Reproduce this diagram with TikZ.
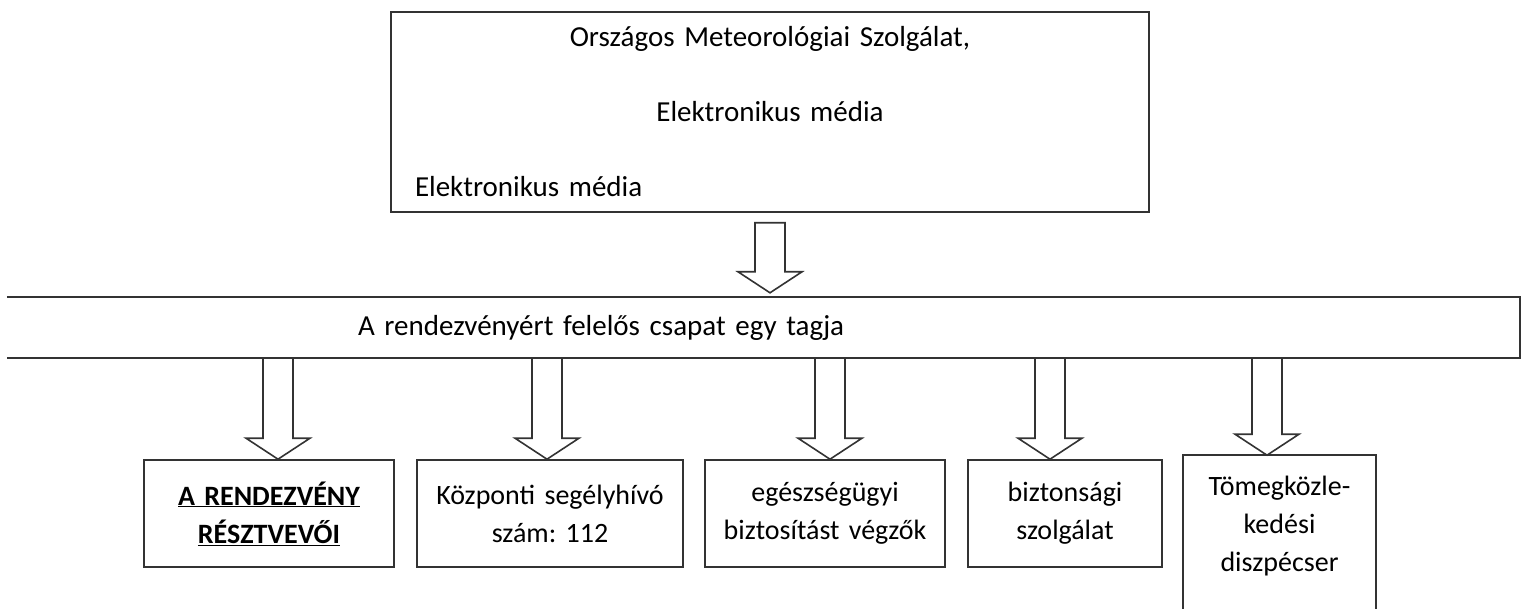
\documentclass[tikz,border=0pt]{standalone}
\usepackage{fontspec}
\setmainfont{Carlito}[WordSpace=0.9]
\frenchspacing
\usetikzlibrary{calc}

\tikzset{
    frame/.style={draw=black!80, line width=1.6pt},
    unit/.style={frame, minimum height=107pt, inner xsep=4pt, align=center, font=\fontsize{28}{38}\selectfont},
    fatarrow/.style={draw=black!80, line width=1.6pt, line join=miter, fill=white},
}

\newcommand{\hollowarrow}[2]{%
    \draw[fatarrow] ($(#1)+(-15,0)$) -- ($(#2)+(-15,-21)$) -- ($(#2)+(-32,-21)$) -- (#2)
        -- ($(#2)+(32,-21)$) -- ($(#2)+(15,-21)$) -- ($(#1)+(15,0)$) -- cycle;
}

\begin{document}
\begin{tikzpicture}[x=1pt, y=-1pt]

    \useasboundingbox (0,0) rectangle (1528,609);
    \coordinate (bottom) at (0,612);

    \node[frame, minimum width=758pt, minimum height=200pt, inner xsep=24pt, text width=710pt,
        align=left, font=\fontsize{29}{35}\selectfont] (media) at (770,112)
        {\makebox[\linewidth]{Országos Meteorológiai Szolgálat,}\\[40pt]
         \makebox[\linewidth]{Elektronikus média}\\[40pt]
         Elektronikus média};

    \node[minimum width=1513pt, minimum height=61pt, inner xsep=351pt, text width=811pt,
        align=left, font=\fontsize{29}{35}\selectfont] (team) at (763.5,327.5)
        {A rendezvényért felelős csapat egy tagja};
    \draw[frame] (team.north west) -- (team.north east) -- (team.south east) -- (team.south west);

    \node[unit, minimum width=250pt, text width=242pt] (b1) at (269,513.5)
        {\textbf{\underline{A RENDEZVÉNY}}\\\textbf{\underline{RÉSZTVEVŐI}}};
    \node[unit, minimum width=266pt, text width=258pt] (b2) at (550,513.5)
        {Központi segélyhívó\\szám: 112};
    \node[unit, minimum width=240pt, text width=232pt] (b3) at (825,513.5)
        {egészségügyi\\biztosítást végzők};
    \node[unit, minimum width=194pt, text width=186pt] (b4) at (1065,513.5)
        {biztonsági\\szolgálat};
    \node[unit, draw=none, minimum width=191pt, minimum height=140pt, text width=183pt] (b5) at (1279.5,526)
        {Tömegközle-\\kedési\\diszpécser};
    \draw[frame] (b5.north west |- bottom) -- (b5.north west) -- (b5.north east) -- (b5.north east |- bottom);

    \coordinate (a0) at ($(media.south)+(0,10)$);
    \coordinate (t0) at ($(a0 |- team.north)+(0,-4)$);
    \hollowarrow{a0}{t0}

    \foreach \x/\n in {278/b1, 547/b2, 830/b3, 1050/b4, 1267/b5} {
        \coordinate (s) at (\x,0 |- team.south);
        \coordinate (t) at (\x,0 |- \n.north);
        \hollowarrow{s}{t}
    }

\end{tikzpicture}
\end{document}
